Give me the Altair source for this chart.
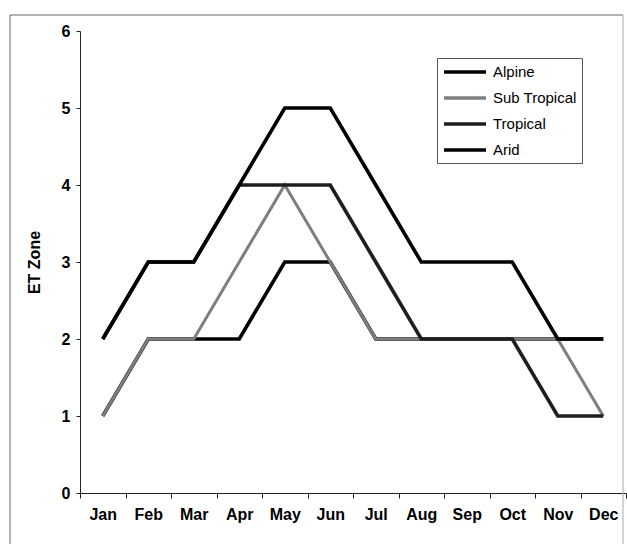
import altair as alt
import pandas as pd

months = ["Jan", "Feb", "Mar", "Apr", "May", "Jun", "Jul", "Aug", "Sep", "Oct", "Nov", "Dec"]
series_names = ["Alpine", "Sub Tropical", "Tropical", "Arid"]
alpine = [2, 3, 3, 4, 5, 5, 4, 3, 3, 3, 2, 2]
sub_tropical = [1, 2, 2, 3, 4, 3, 2, 2, 2, 2, 2, 1]
tropical = [2, 3, 3, 4, 4, 4, 3, 2, 2, 2, 1, 1]
arid = [1, 2, 2, 2, 3, 3, 2, 2, 2, 2, 2, 2]
colors = ["#000000", "#7e7e7e", "#1e1e1e", "#000000"]
y_ticks = [0, 1, 2, 3, 4, 5, 6]

values = {"Alpine": alpine, "Sub Tropical": sub_tropical, "Tropical": tropical, "Arid": arid}
rows = []
for name in series_names:
    for m, v in zip(months, values[name]):
        rows.append({"Month": m, "Zone": v, "Series": name})
df = pd.DataFrame(rows)

W, H = 546, 462
FONT = "Liberation Sans"

x_enc = alt.X("Month:N", sort=months, scale=alt.Scale(paddingInner=0, paddingOuter=0),
              axis=alt.Axis(title=None, labelAngle=0, tickBand="extent", tickSize=5,
                            labelPadding=8, domainColor="#222", tickColor="#222",
                            labelFont=FONT, labelFontWeight="bold", labelFontSize=16,
                            labelColor="#000"))
y_enc = alt.Y("Zone:Q", scale=alt.Scale(domain=[0, 6], nice=False),
              axis=alt.Axis(title="ET Zone", values=y_ticks, tickSize=4, labelPadding=6,
                            titlePadding=19, grid=False, domainColor="#222", tickColor="#222",
                            labelFont=FONT, labelFontWeight="bold", labelFontSize=16,
                            labelColor="#000", titleFont=FONT, titleFontWeight="bold",
                            titleFontSize=16, titleColor="#000"))
color_enc = alt.Color("Series:N",
                      scale=alt.Scale(domain=series_names, range=colors),
                      legend=alt.Legend(title=None, orient="none", legendX=357, legendY=27,
                                        symbolType="M-1,0H5", symbolSize=196, symbolStrokeWidth=3.5,
                                        labelOffset=33, rowPadding=9, padding=5,
                                        strokeColor="#555", labelFontSize=15,
                                        labelFont=FONT, labelColor="#000"))

draw_order = ["Arid", "Sub Tropical", "Tropical", "Alpine"]
widths = {"Alpine": 3.6, "Sub Tropical": 3.0, "Tropical": 3.6, "Arid": 3.6}
layers = []
for name in draw_order:
    layers.append(
        alt.Chart(df).transform_filter(alt.datum.Series == name)
        .mark_line(strokeWidth=widths[name], strokeJoin="miter")
        .encode(x=x_enc, y=y_enc, color=color_enc)
    )

frame_df = pd.DataFrame({"k": [0]})
frame_top = alt.Chart(frame_df).mark_rule(color="#666", strokeWidth=1).encode(
    x=alt.value(-70), x2=alt.value(543), y=alt.value(-16))
frame_left = alt.Chart(frame_df).mark_rule(color="#666", strokeWidth=1).encode(
    x=alt.value(-70), y=alt.value(-16), y2=alt.value(530))
frame_right = alt.Chart(frame_df).mark_rule(color="#aaa", strokeWidth=1).encode(
    x=alt.value(543), y=alt.value(-16), y2=alt.value(530))

chart = alt.layer(frame_top, frame_left, frame_right, *layers).properties(
    width=W, height=H,
    padding={"left": 80, "top": 31, "right": 1, "bottom": 51},
    autosize=alt.AutoSizeParams(type="none"),
    background="white",
).configure_view(stroke=None)

chart.save("out.html", embed_options={"renderer": "svg", "actions": False})
